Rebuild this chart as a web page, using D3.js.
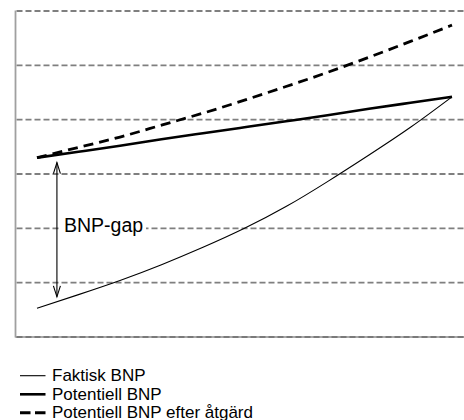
<!DOCTYPE html>
<html>
<head>
<meta charset="utf-8">
<script src="https://cdn.jsdelivr.net/npm/d3@7"></script>
<style>
  html, body { margin: 0; padding: 0; background: #fff; }
  svg { display: block; }
  text { font-family: "Liberation Sans", Arial, sans-serif; fill: #000; }
</style>
</head>
<body>
<svg id="chart" width="464" height="420"></svg>
<script>
// ---- data (arbitrary units) ----
const years = [0, 1, 2, 3, 4, 5, 6, 7, 8, 9, 10];
const faktisk = [0.53, 0.78, 1.04, 1.33, 1.65, 2.00, 2.40, 2.86, 3.35, 3.86, 4.42];
const potentiell = [3.30, 3.41, 3.52, 3.64, 3.75, 3.86, 3.97, 4.08, 4.20, 4.31, 4.42];
const potentiellEfter = [3.30, 3.49, 3.68, 3.90, 4.12, 4.36, 4.61, 4.87, 5.15, 5.44, 5.74];
const gridLevels = [0, 1, 2, 3, 4, 5, 6];
const gapX = 0.48, gapTop = 3.21, gapBottom = 0.74;
const gapLabel = "BNP-gap";
const legendLabels = ["Faktisk BNP", "Potentiell BNP", "Potentiell BNP efter åtgärd"];

const svg = d3.select("#chart");
const x = d3.scaleLinear().domain([0, 10]).range([37, 452]);
const y = d3.scaleLinear().domain([0, 6]).range([337, 11]);
const plotLeft = 15.5, plotRight = 464;

// grid lines
svg.append("g").selectAll("line").data(gridLevels.filter(d => d > 0)).join("line")
  .attr("x1", plotLeft + 1).attr("x2", plotRight)
  .attr("y1", d => y(d)).attr("y2", d => y(d))
  .attr("stroke", "#7f7f7f").attr("stroke-width", 1.9)
  .attr("stroke-dasharray", "6,3");

// bottom line
svg.append("line").attr("x1", plotLeft).attr("x2", plotRight)
  .attr("y1", y(0)).attr("y2", y(0))
  .attr("stroke", "#a8a8a8").attr("stroke-width", 1.8);
svg.append("line").attr("x1", plotLeft + 1).attr("x2", plotRight)
  .attr("y1", y(0)).attr("y2", y(0))
  .attr("stroke", "#7a7a7a").attr("stroke-width", 1.8)
  .attr("stroke-dasharray", "6,3");

// left axis line
svg.append("line").attr("x1", plotLeft).attr("x2", plotLeft)
  .attr("y1", y(6) - 0.5).attr("y2", y(0) + 0.5)
  .attr("stroke", "#a0a0a0").attr("stroke-width", 1.8);

// label with white background
const labelX = 64, labelY = (y(2) + 3.2);
svg.append("rect").attr("x", 60).attr("y", y(2) - 12).attr("width", 86).attr("height", 24)
  .attr("fill", "#fff");
svg.append("text").attr("x", labelX).attr("y", labelY)
  .attr("font-size", 19.5).text(gapLabel);

const line = d3.line().x((d, i) => x(years[i])).y(d => y(d)).curve(d3.curveNatural);

svg.append("path").attr("d", line(faktisk)).attr("fill", "none")
  .attr("stroke", "#000").attr("stroke-width", 1.1);
svg.append("path").attr("d", line(potentiell)).attr("fill", "none")
  .attr("stroke", "#000").attr("stroke-width", 2.6);
svg.append("path").attr("d", line(potentiellEfter)).attr("fill", "none")
  .attr("stroke", "#000").attr("stroke-width", 2.8)
  .attr("stroke-dasharray", "10,6");

// gap arrow
const ax = x(gapX), ay1 = y(gapTop), ay2 = y(gapBottom);
svg.append("line").attr("x1", ax).attr("x2", ax).attr("y1", ay1).attr("y2", ay2)
  .attr("stroke", "#000").attr("stroke-width", 1.1);
svg.append("path").attr("d", `M${ax - 3.5},${ay1 + 11} L${ax},${ay1} L${ax + 3.5},${ay1 + 11}`)
  .attr("fill", "none").attr("stroke", "#000").attr("stroke-width", 1.1);
svg.append("path").attr("d", `M${ax - 3.5},${ay2 - 11} L${ax},${ay2} L${ax + 3.5},${ay2 - 11}`)
  .attr("fill", "none").attr("stroke", "#000").attr("stroke-width", 1.1);

// legend
const legendStyles = [
  {w: 1.1, dash: null},
  {w: 2.6, dash: null},
  {w: 3, dash: "10.5,4.5"}
];
const lg = svg.append("g");
const rowY = [375.7, 394.3, 412.8];
legendLabels.forEach((lab, i) => {
  lg.append("line").attr("x1", 20).attr("x2", 45.5)
    .attr("y1", rowY[i]).attr("y2", rowY[i])
    .attr("stroke", "#000").attr("stroke-width", legendStyles[i].w)
    .attr("stroke-dasharray", legendStyles[i].dash);
  lg.append("text").attr("x", 52).attr("y", rowY[i] + 5.6)
    .attr("font-size", 17).text(lab);
});
</script>
</body>
</html>
